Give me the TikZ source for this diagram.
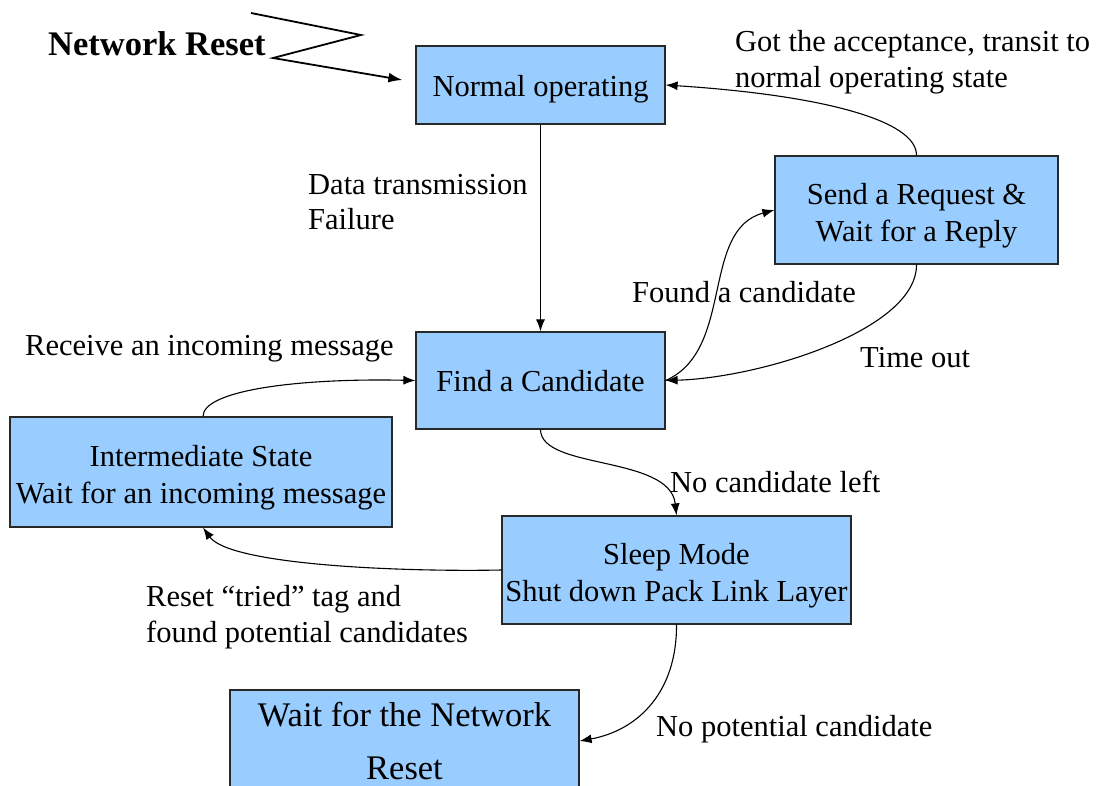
\documentclass[tikz,border=0pt]{standalone}
\usepackage{fontspec}
\setmainfont{Liberation Serif}
\usetikzlibrary{arrows.meta}
\definecolor{boxblue}{RGB}{153,204,255}
\definecolor{boxline}{RGB}{40,40,40}
\newcommand{\mystrut}[1]{\rule{0pt}{#1}}
\begin{document}
\begin{tikzpicture}[x=1pt,y=-1pt,
  state/.style={draw=boxline, line width=1.2pt, fill=boxblue, inner sep=0pt, align=center,
    font=\fontsize{30.5}{37}\selectfont},
  lbl/.style={anchor=west, align=left, inner sep=0pt, font=\fontsize{30.5}{35.5}\selectfont},
  conn/.style={line width=1.1pt, -{Latex[length=12pt,width=9pt]}}]
\clip (0,0) rectangle (1101,785);
\fill[white] (0,0) rectangle (1101,785);
% states
\node[state, minimum width=249pt, minimum height=78pt] (normal) at (540.5,85) {\mystrut{29pt}Normal operating};
\node[state, minimum width=283pt, minimum height=108pt] (send) at (916.5,210) {\mystrut{33pt}Send a Request \&\\Wait for a Reply};
\node[state, minimum width=249pt, minimum height=97pt] (find) at (540.5,380.5) {\mystrut{23pt}Find a Candidate};
\node[state, minimum width=382pt, minimum height=110pt] (inter) at (201,472) {\mystrut{33pt}Intermediate State\\Wait for an incoming message};
\node[state, minimum width=349pt, minimum height=108pt] (sleep) at (676.5,570) {\mystrut{33pt}Sleep Mode\\Shut down Pack Link Layer};
\node[state, minimum width=349pt, minimum height=102pt, font=\fontsize{34.5}{53}\selectfont] (wait) at (404.5,741) {Wait for the Network\\Reset};
% network reset
\node[anchor=west, inner sep=0pt, font=\bfseries\fontsize{34.5}{40}\selectfont] (nr) at (48,44) {Network Reset};
\coordinate (z1) at (251,13);
\coordinate (z2) at (361,35);
\coordinate (z3) at (273,58);
\draw[line width=1.8pt, -{Latex[length=14pt,width=10pt]}] (z1) -- (z2) -- (z3) -- ([xshift=-13pt,yshift=5pt]normal.west);
% connectors
\draw[conn] (normal.south) -- (find.north);
\draw[conn] (send.north) .. controls (917,120) and (820,95) .. (normal.east);
\draw[conn] (find.east) .. controls (735,350) and (700,230) .. (send.west);
\draw[conn] (send.south) .. controls (917,330) and (760,378) .. (find.east);
\draw[conn] (find.south) .. controls (541,470) and (670,455) .. (sleep.north);
\draw[conn] ([xshift=2pt]inter.north) .. controls (203,390) and (300,378) .. (find.west);
\draw[conn] (sleep.west) .. controls (400,572) and (230,565) .. ([xshift=2pt]inter.south);
\draw[conn] (sleep.south) .. controls (677,690) and (640,730) .. (wait.east);
% labels
\node[lbl] (l1) at (735,62) {Got the acceptance, transit to\\normal operating state};
\node[lbl] (l2) at (308,202) {Data transmission\\Failure};
\node[lbl] (l3) at (632,292) {Found a candidate};
\node[lbl] (l4) at (860,358) {Time out};
\node[lbl] (l5) at (25,349) {Receive an incoming message};
\node[lbl] (l6) at (670,482) {No candidate left};
\node[lbl] (l7) at (146,617) {Reset “tried” tag and\\found potential candidates};
\node[lbl] (l8) at (656,729) {No potential candidate};
\end{tikzpicture}
\end{document}
